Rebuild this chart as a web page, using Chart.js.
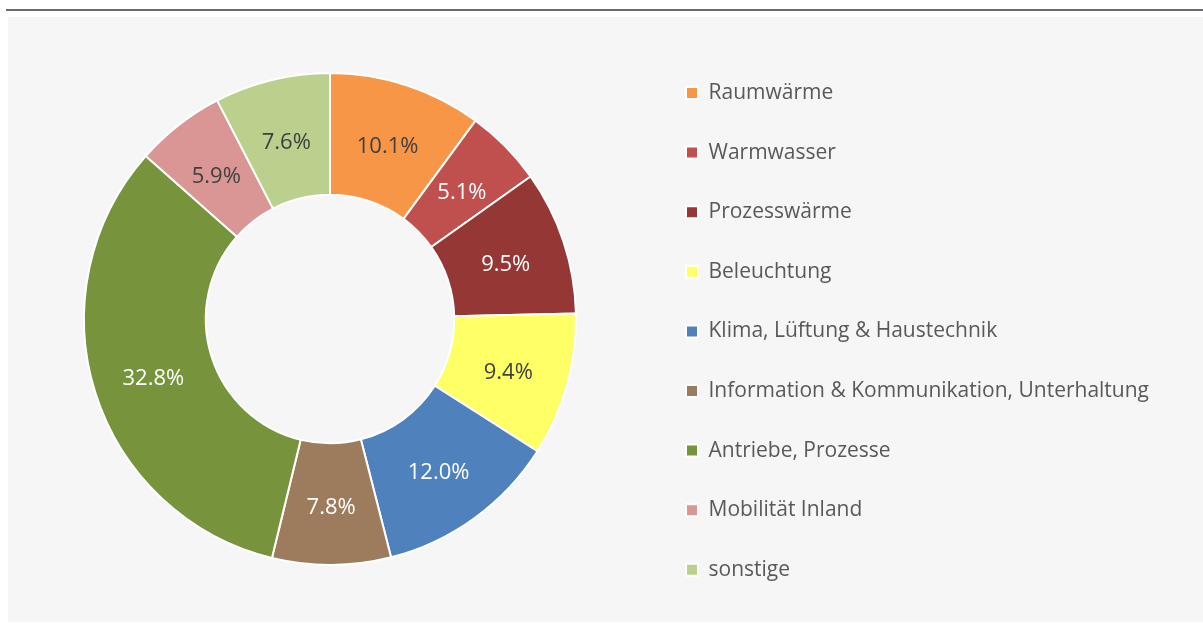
<!DOCTYPE html>
<html lang="de">
<head>
<meta charset="utf-8">
<title>Stromverbrauch nach Anwendungen</title>
<script src="https://cdn.jsdelivr.net/npm/chart.js@4/dist/chart.umd.min.js"></script>
<style>
    html, body { margin: 0; padding: 0; background: #ffffff; }
    body { width: 1203px; height: 626px; position: relative; overflow: hidden; }
    .topline { position: absolute; left: 6px; top: 9px; width: 1197px; height: 2px; background: #666c75; }
    .panel { position: absolute; left: 8px; top: 17px; width: 1195px; height: 605px; background: #f6f6f6; }
</style>
</head>
<body>
<div class="topline"></div>
<div class="panel"><canvas id="usageChart" width="1195" height="605"></canvas></div>
<script>
// Данные диаграммы
const categories = [
    "Raumwärme",
    "Warmwasser",
    "Prozesswärme",
    "Beleuchtung",
    "Klima, Lüftung & Haustechnik",
    "Information & Kommunikation, Unterhaltung",
    "Antriebe, Prozesse",
    "Mobilität Inland",
    "sonstige",
];
const shares = [10.1, 5.1, 9.5, 9.4, 12.0, 7.8, 32.8, 5.9, 7.6];

const sliceColors = [
    "#f79646", "#c0504d", "#953735", "#ffff66", "#4f81bd",
    "#9c7c5c", "#77933c", "#d99694", "#bad08c",
];
const labelColors = [
    "#404040", "#ffffff", "#ffffff", "#404040", "#ffffff",
    "#ffffff", "#ffffff", "#404040", "#404040",
];

document.addEventListener("DOMContentLoaded", function () {
    const fontFamily = '"Open Sans", "Liberation Sans", sans-serif';
    const legendSize = 21;
    const legendGap = 38.6;
    const boxSize = 12;

    // ширина легенды, чтобы кольцо стояло слева, а легенда с x = 678
    const measure = document.createElement("canvas").getContext("2d");
    measure.font = legendSize + "px " + fontFamily;
    const textWidth = Math.max(...categories.map((c) => measure.measureText(c).width));
    const legendWidth = legendGap + boxSize + legendSize / 2 + textWidth + 10;
    const legendLeft = 678 - legendGap;
    const padRight = 1195 - legendLeft - legendWidth;
    const padLeft = 2 * 322 - legendLeft;

    // подписи процентов в середине каждого сектора
    const sliceLabels = {
        id: "sliceLabels",
        afterDatasetsDraw(chart) {
            const ctx = chart.ctx;
            const meta = chart.getDatasetMeta(0);
            ctx.save();
            ctx.font = "22px " + fontFamily;
            ctx.textAlign = "center";
            ctx.textBaseline = "middle";
            meta.data.forEach((arc, i) => {
                const pos = arc.tooltipPosition();
                ctx.fillStyle = labelColors[i];
                ctx.fillText(shares[i].toFixed(1) + "%", pos.x, pos.y + 4);
            });
            ctx.restore();
        },
    };

    new Chart(document.getElementById("usageChart"), {
        type: "doughnut",
        data: {
            labels: categories,
            datasets: [
                {
                    data: shares,
                    backgroundColor: sliceColors,
                    borderColor: "#ffffff",
                    borderWidth: 2,
                },
            ],
        },
        options: {
            responsive: false,
            animation: false,
            radius: 246,
            cutout: "50.5%",
            layout: {
                padding: { left: padLeft, right: padRight, top: 0, bottom: 1 },
            },
            plugins: {
                tooltip: { enabled: false },
                legend: {
                    position: "right",
                    align: "center",
                    title: {
                        display: true,
                        text: "",
                        font: { size: 14 },
                        padding: { top: 3, bottom: 5 },
                    },
                    labels: {
                        boxWidth: boxSize,
                        boxHeight: boxSize,
                        padding: legendGap,
                        color: "#595959",
                        font: { size: legendSize, family: fontFamily },
                    },
                },
            },
        },
        plugins: [sliceLabels],
    });
});
</script>
</body>
</html>
